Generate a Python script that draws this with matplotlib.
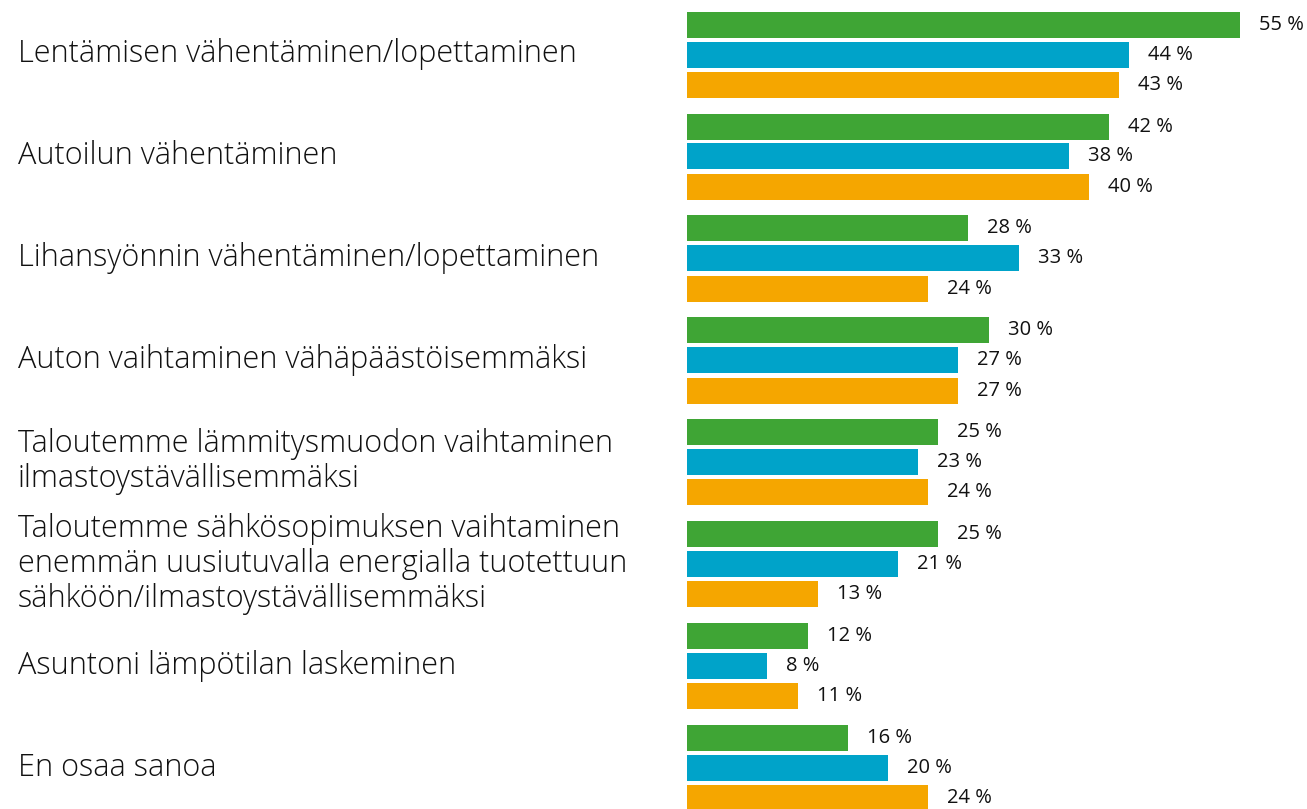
import matplotlib.pyplot as plt
from matplotlib.transforms import blended_transform_factory

# Kategoriat ja arvot (%)
kategoriat = [
    "Lentämisen vähentäminen/lopettaminen",
    "Autoilun vähentäminen",
    "Lihansyönnin vähentäminen/lopettaminen",
    "Auton vaihtaminen vähäpäästöisemmäksi",
    "Taloutemme lämmitysmuodon vaihtaminen\nilmastoystävällisemmäksi",
    "Taloutemme sähkösopimuksen vaihtaminen\nenemmän uusiutuvalla energialla tuotettuun\nsähköön/ilmastoystävällisemmäksi",
    "Asuntoni lämpötilan laskeminen",
    "En osaa sanoa",
]
vihrea = [55, 42, 28, 30, 25, 25, 12, 16]
sininen = [44, 38, 33, 27, 23, 21, 8, 20]
oranssi = [43, 40, 24, 27, 24, 13, 11, 24]

sarjat = [vihrea, sininen, oranssi]
varit = ["#3fa535", "#00a3c9", "#f5a600"]
siirrot = [-0.293, 0.0, 0.300]

W, H = 1307, 809
fig = plt.figure(figsize=(W / 100, H / 100), dpi=100)
fig.patch.set_facecolor("white")

# akseli: x=0 kohdassa 687 px, ~10.05 px / %
vasen = 687
px_per_pros = 10.05
xmax = (W - vasen) / px_per_pros
ax = fig.add_axes([vasen / W, 0, 1 - vasen / W, 1])
ax.set_xlim(0, xmax)
vali = 101.86
ax.set_ylim((H - 54.5) / vali, -54.5 / vali)
ax.axis("off")

korkeus = 26 / vali
for arvot, vari, siirto in zip(sarjat, varit, siirrot):
    ypos = [i + siirto for i in range(len(arvot))]
    ax.barh(ypos, arvot, height=korkeus, color=vari, linewidth=0)
    for y, v in zip(ypos, arvot):
        ax.text(v + 1.9, y, f"{v} %", va="center", ha="left",
                fontsize=14.5, family="Open Sans", fontweight="normal",
                color="#111111")

trans = blended_transform_factory(fig.transFigure, ax.transData)
for i, nimi in enumerate(kategoriat):
    ax.text(18 / W, i, nimi, transform=trans, va="center", ha="left",
            fontsize=22.1, family="Open Sans", fontweight="light",
            color="#111111", linespacing=1.12)

fig.savefig("out.png", dpi=100, facecolor="white")
